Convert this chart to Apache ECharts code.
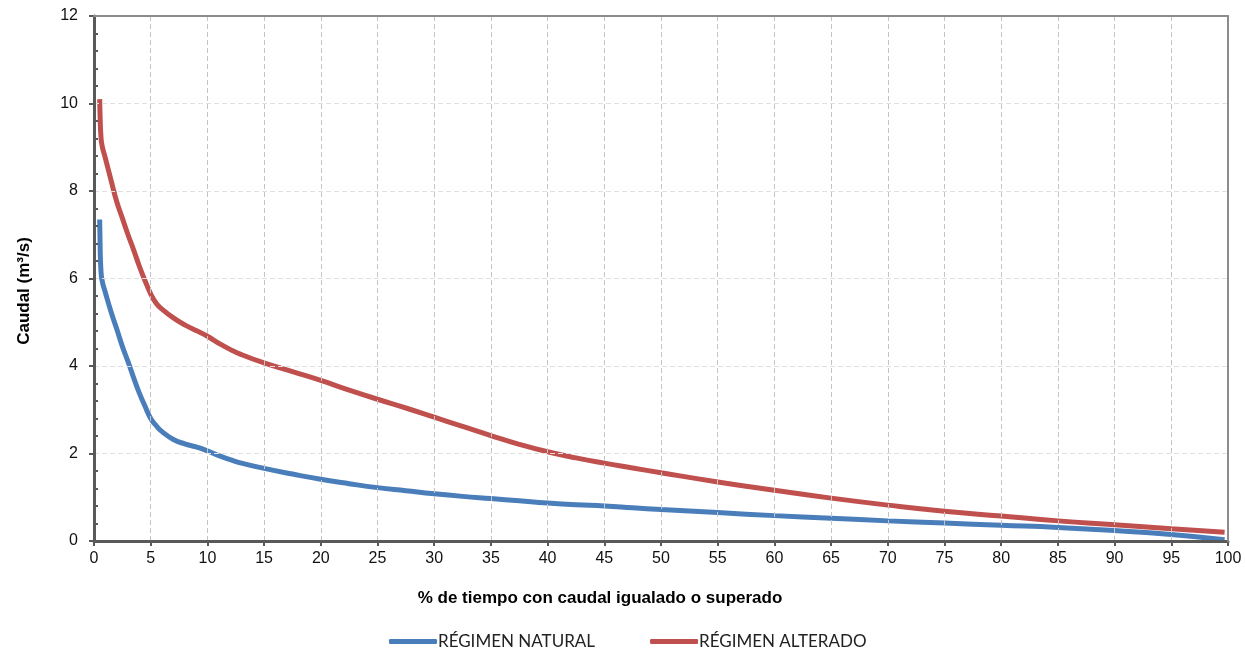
<!DOCTYPE html>
<html>
<head>
<meta charset="utf-8">
<script src="https://cdn.jsdelivr.net/npm/echarts@6/dist/echarts.min.js"></script>
<style>
html,body{margin:0;padding:0;background:#fff;}
#c{width:1245px;height:653px;}
</style>
</head>
<body>
<div id="c"></div>
<script>
// % of time flow equalled or exceeded
const pct = [0.5, 0.55, 0.6, 0.7, 1.0, 1.5, 2, 2.5, 3, 3.5, 4, 4.5, 5, 5.5, 6, 7, 8, 9, 10, 11, 12, 13, 15, 17.5, 20, 22.5, 25, 27.5, 30, 32.5, 35, 37.5, 40, 42.5, 45, 47.5, 50, 55, 60, 65, 70, 75, 80, 85, 90, 95, 99.7];
const natural = [7.35, 6.6, 6.25, 5.97, 5.68, 5.24, 4.85, 4.45, 4.1, 3.73, 3.38, 3.08, 2.8, 2.63, 2.5, 2.32, 2.22, 2.15, 2.06, 1.95, 1.86, 1.78, 1.66, 1.53, 1.41, 1.31, 1.22, 1.15, 1.08, 1.02, 0.97, 0.92, 0.87, 0.83, 0.80, 0.76, 0.72, 0.65, 0.58, 0.52, 0.46, 0.41, 0.36, 0.31, 0.24, 0.15, 0.03];
const alterado = [10.1, 9.6, 9.3, 9.05, 8.75, 8.25, 7.76, 7.38, 7.0, 6.65, 6.28, 5.95, 5.65, 5.43, 5.3, 5.1, 4.94, 4.81, 4.68, 4.52, 4.38, 4.26, 4.07, 3.87, 3.67, 3.45, 3.24, 3.04, 2.83, 2.62, 2.41, 2.21, 2.04, 1.9, 1.78, 1.67, 1.56, 1.35, 1.16, 0.98, 0.82, 0.68, 0.57, 0.46, 0.37, 0.28, 0.2];
const seriesNames = ['RÉGIMEN NATURAL', 'RÉGIMEN ALTERADO'];
const xTitle = '% de tiempo con caudal igualado o superado';
const yTitle = 'Caudal (m³/s)';

const chart = echarts.init(document.getElementById('c'), null, {renderer: 'canvas'});
const pairs = (ys) => pct.map((x, i) => [x, ys[i]]);

const frameAxis = {
  show: true, z: 8,
  axisLine: {show: true, onZero: false, lineStyle: {color: '#8c8c8c', width: 2}},
  axisTick: {show: false}, axisLabel: {show: false}, splitLine: {show: false}
};

chart.setOption({
  animation: false,
  backgroundColor: '#fff',
  textStyle: {fontFamily: 'Liberation Sans, Arial, sans-serif'},
  grid: {left: 94, right: 17, top: 16, bottom: 112, containLabel: false},
  legend: {
    bottom: -2, left: 384,
    itemWidth: 48, itemHeight: 5, itemGap: 55,
    icon: 'roundRect',
    textStyle: {fontFamily: 'Lato, sans-serif', fontSize: 17, color: '#222', padding: [0, 0, 0, -4]},
    data: seriesNames
  },
  xAxis: [{
    type: 'value', min: 0, max: 100, interval: 5, z: 5,
    axisLine: {show: true, onZero: false, lineStyle: {color: '#595959', width: 3}},
    axisTick: {show: true, length: 5, lineStyle: {color: '#595959', width: 2}},
    axisLabel: {color: '#111', fontSize: 16, margin: 10},
    splitLine: {show: true, lineStyle: {color: '#c4c4c4', type: [5, 3], width: 1}}
  }, Object.assign({type: 'value', position: 'top', min: 0, max: 100}, frameAxis)],
  yAxis: [{
    type: 'value', min: 0, max: 12, interval: 2, z: 5,
    axisLine: {show: true, onZero: false, lineStyle: {color: '#595959', width: 3}},
    axisTick: {show: true, length: 5, lineStyle: {color: '#595959', width: 2}},
    minorTick: {show: true, splitNumber: 5, length: -4, lineStyle: {color: '#595959', width: 2}},
    axisLabel: {color: '#111', fontSize: 16, margin: 16},
    splitLine: {show: true, lineStyle: {color: '#e0e0e0', type: [5, 3], width: 1}}
  }, Object.assign({type: 'value', position: 'right', min: 0, max: 12}, frameAxis)],
  graphic: [
    {type: 'text', x: 600, y: 598, style: {text: xTitle, font: 'bold 17px "Liberation Sans", Arial, sans-serif', fill: '#000', align: 'center', verticalAlign: 'middle'}},
    {type: 'text', x: 24, y: 291, rotation: Math.PI / 2, style: {text: yTitle, font: 'bold 17px "Liberation Sans", Arial, sans-serif', fill: '#000', align: 'center', verticalAlign: 'middle'}}
  ],
  series: [
    {name: seriesNames[0], type: 'line', data: pairs(natural), showSymbol: false, smooth: true,
     lineStyle: {color: '#4a7ebb', width: 5}, itemStyle: {color: '#4a7ebb'}},
    {name: seriesNames[1], type: 'line', data: pairs(alterado), showSymbol: false, smooth: true,
     lineStyle: {color: '#c0504d', width: 5}, itemStyle: {color: '#c0504d'}}
  ]
});
</script>
</body>
</html>
